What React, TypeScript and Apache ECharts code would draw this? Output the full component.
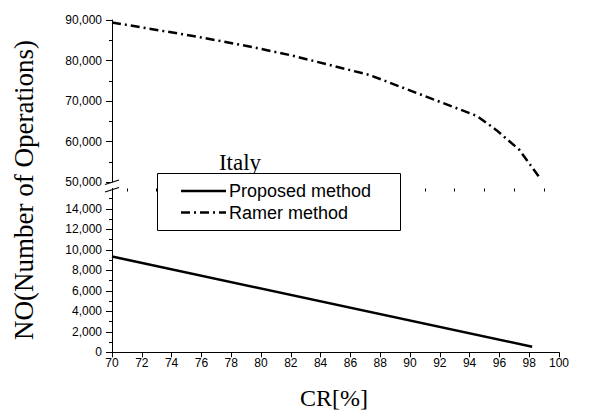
import React, { useEffect, useRef } from "react";
import * as echarts from "echarts";

const proposedX = [70, 98.2];
const proposedY = [9350, 550];

const ramerX = [70, 76, 79.3, 82, 87.3, 92, 94.5, 95.8, 97.35, 98.65];
const ramerY = [89400, 85700, 83400, 81300, 76400, 69800, 66300, 62800, 57900, 51300];

const lowerLabels = [0, 2000, 4000, 6000, 8000, 10000, 12000, 14000];
const oddTicks = [71, 73, 75, 77, 79, 81, 83, 85, 87, 89, 91, 93, 95, 97, 99];

const seriesNames = ["Proposed method", "Ramer method"];
const ramerDash = [9, 4, 2, 4];

const fmt = (v: number) => v.toLocaleString("en-US");

export default function App() {
  const ref = useRef<HTMLDivElement>(null);
  useEffect(() => {
    if (!ref.current) return;
    const chart = echarts.init(ref.current, null, { renderer: "svg" });
    const sans = "Liberation Sans, Arial, sans-serif";
    const serif = "Liberation Serif, Times New Roman, serif";
    const axisCommon = {
      axisLine: { show: true, lineStyle: { color: "#000", width: 1 } },
      splitLine: { show: false },
    };
    chart.setOption({
      animation: false,
      backgroundColor: "#fff",
      grid: [
        { left: 112, width: 447, top: 20, height: 162 },
        { left: 112, width: 447, top: 188.5, height: 163.8 },
      ],
      xAxis: [
        { type: "value", gridIndex: 0, min: 70, max: 100, show: false },
        {
          type: "value",
          gridIndex: 1,
          min: 70,
          max: 100,
          interval: 2,
          ...axisCommon,
          axisTick: { show: true, length: 5, lineStyle: { color: "#000" } },
          axisLabel: { color: "#000", fontFamily: sans, fontSize: 12, margin: 5 },
        },
        {
          type: "value",
          gridIndex: 1,
          min: 70,
          max: 100,
          interval: 2,
          axisLine: { show: false },
          splitLine: { show: false },
          axisLabel: { show: false },
          axisTick: {
            show: true,
            inside: true,
            length: 3,
            customValues: oddTicks,
            lineStyle: { color: "#000" },
          },
        },
      ],
      yAxis: [
        {
          type: "value",
          gridIndex: 0,
          min: 50000,
          max: 90000,
          interval: 10000,
          ...axisCommon,
          axisTick: { show: true, length: 6, lineStyle: { color: "#000" } },
          minorTick: { show: true, splitNumber: 2, length: 3, lineStyle: { color: "#000" } },
          axisLabel: { color: "#000", fontFamily: sans, fontSize: 12, margin: 10, formatter: fmt },
        },
        {
          type: "value",
          gridIndex: 1,
          min: 0,
          max: 16000,
          interval: 2000,
          ...axisCommon,
          axisTick: { show: true, length: 6, customValues: lowerLabels, lineStyle: { color: "#000" } },
          minorTick: { show: true, splitNumber: 2, length: 3, lineStyle: { color: "#000" } },
          axisLabel: {
            color: "#000",
            fontFamily: sans,
            fontSize: 12,
            margin: 10,
            customValues: lowerLabels,
            formatter: fmt,
          },
        },
      ],
      series: [
        {
          name: seriesNames[0],
          type: "line",
          xAxisIndex: 1,
          yAxisIndex: 1,
          symbol: "none",
          data: proposedX.map((x, i) => [x, proposedY[i]]),
          lineStyle: { color: "#000", width: 2.5, type: "solid" },
          itemStyle: { color: "#000" },
        },
        {
          name: seriesNames[1],
          type: "line",
          xAxisIndex: 0,
          yAxisIndex: 0,
          symbol: "none",
          data: ramerX.map((x, i) => [x, ramerY[i]]),
          lineStyle: { color: "#000", width: 2.5, type: ramerDash },
          itemStyle: { color: "#000" },
        },
      ],
      graphic: [
        {
          type: "line",
          shape: { x1: 105, y1: 184.5, x2: 119, y2: 180 },
          style: { stroke: "#000", lineWidth: 1.2 },
        },
        {
          type: "line",
          shape: { x1: 105, y1: 192, x2: 119, y2: 187.5 },
          style: { stroke: "#000", lineWidth: 1.2 },
        },
        {
          type: "rect",
          shape: { x: 157.5, y: 173.5, width: 243, height: 57 },
          style: { fill: "#fff", stroke: "#000", lineWidth: 1 },
          z: 10,
        },
        {
          type: "line",
          shape: { x1: 181, y1: 191, x2: 226, y2: 191 },
          style: { stroke: "#000", lineWidth: 2.5 },
          z: 11,
        },
        {
          type: "line",
          shape: { x1: 181, y1: 212.5, x2: 226, y2: 212.5 },
          style: { stroke: "#000", lineWidth: 2.5, lineDash: ramerDash },
          z: 11,
        },
        {
          type: "text",
          x: 229,
          y: 191,
          z: 11,
          style: {
            text: seriesNames[0],
            fill: "#000",
            font: `18px ${sans}`,
            textAlign: "left",
            textVerticalAlign: "middle",
          },
        },
        {
          type: "text",
          x: 229,
          y: 212.5,
          z: 11,
          style: {
            text: seriesNames[1],
            fill: "#000",
            font: `18px ${sans}`,
            textAlign: "left",
            textVerticalAlign: "middle",
          },
        },
        {
          type: "text",
          x: 240,
          y: 162,
          style: {
            text: "Italy",
            fill: "#000",
            font: `23px ${serif}`,
            textAlign: "center",
            textVerticalAlign: "middle",
          },
        },
        {
          type: "text",
          x: 334,
          y: 398,
          style: {
            text: "CR[%]",
            fill: "#000",
            font: `24px ${serif}`,
            textAlign: "center",
            textVerticalAlign: "middle",
          },
        },
        {
          type: "text",
          x: 24,
          y: 190,
          rotation: Math.PI / 2,
          style: {
            text: "NO(Number of Operations)",
            fill: "#000",
            font: `27px ${serif}`,
            textAlign: "center",
            textVerticalAlign: "middle",
          },
        },
      ],
    });
    return () => chart.dispose();
  }, []);
  return (
    <div
      ref={ref}
      style={{ position: "absolute", left: 0, top: 0, width: 607, height: 415, background: "#fff" }}
    />
  );
}
